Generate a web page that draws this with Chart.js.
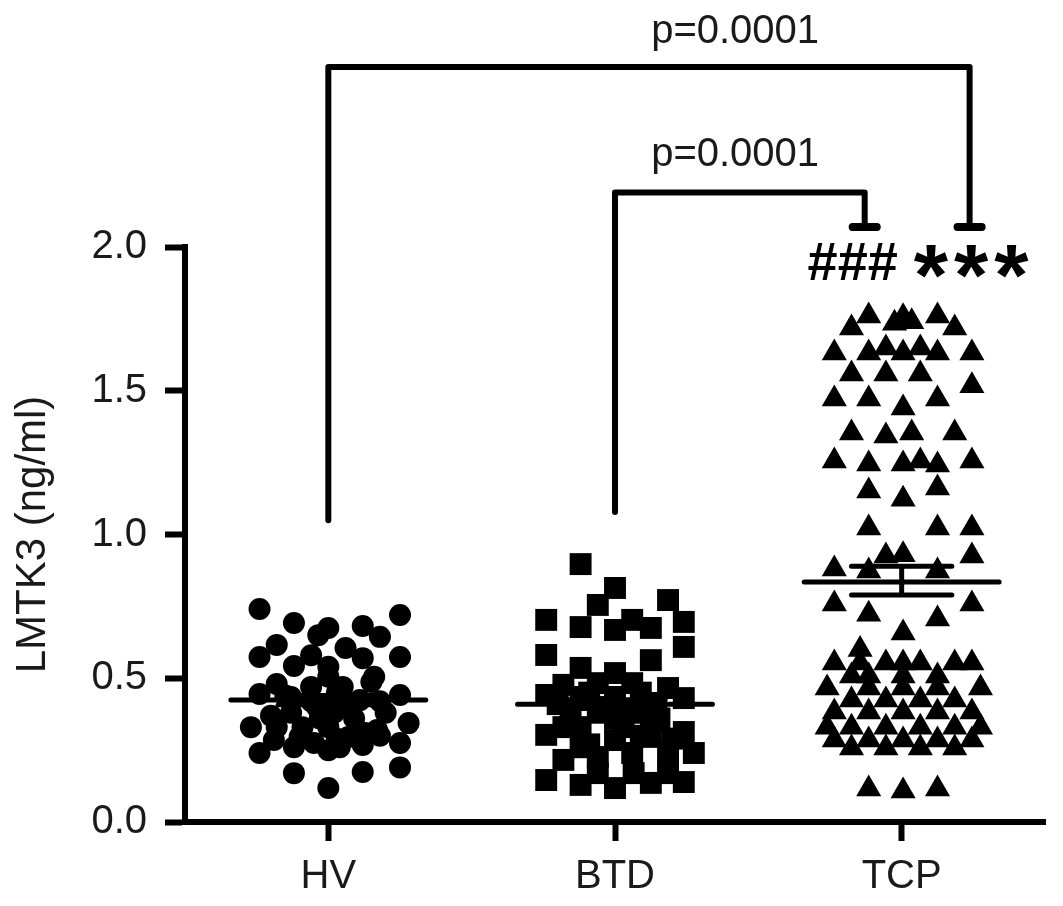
<!DOCTYPE html>
<html>
<head>
<meta charset="utf-8">
<title>LMTK3</title>
<script src="https://cdn.jsdelivr.net/npm/chart.js@4/dist/chart.umd.min.js"></script>
<style>
html, body { margin:0; padding:0; background:#fff; }
</style>
</head>
<body>
<canvas id="chart" width="1063" height="906"></canvas>
<script>
//data

const groups = ['HV', 'BTD', 'TCP'];
const groupPos = [1, 2, 3];
const yTicks = [0, 0.5, 1.0, 1.5, 2.0];

// HV - circles (value, horizontal spread from the group centre)
const hvValues = [0.741,0.692,0.675,0.65,0.682,0.644,0.72,0.616,0.574,0.58,
	0.605,0.57,0.574,0.543,0.54,0.48,0.445,0.487,0.442,0.33,
	0.344,0.24,0.26,0.25,0.268,0.30,0.275,0.17,0.174,0.19,
	0.118,0.33,0.38,0.47,0.505,0.47,0.435,0.424,0.505,0.40,
	0.38,0.33,0.296,0.296,0.285,0.275,0.26,0.32,0.42,0.42,0.42,
	0.45,0.36,0.36,0.33,0.29,0.44,0.38,0.31,0.37];
const hvSpread = [-0.24,-0.12,0,-0.035,0.12,0.18,0.25,-0.18,-0.24,-0.06,
	0.06,0.12,0.25,-0.12,0,-0.18,-0.24,0.15,0.25,-0.27,
	0.28,-0.24,-0.12,0,0.12,0.18,0.25,-0.12,0.12,0.25,
	0,-0.18,-0.13,-0.06,0,0.05,-0.13,0.11,0.16,-0.04,
	0.02,0,-0.10,0.07,-0.19,-0.05,0.04,0.17,-0.06,0.06,0.18,
	0.03,-0.03,0.09,-0.09,0.03,-0.15,0.2,0.13,-0.2];

// BTD - squares
const btdValues = [0.897,0.814,0.755,0.772,0.703,0.678,0.668,0.703,0.675,0.696,
	0.609,0.581,0.563,0.536,0.518,0.477,0.442,0.466,0.431,0.483,
	0.483,0.435,0.435,0.414,0.38,0.38,0.38,0.303,0.313,0.24,
	0.26,0.285,0.296,0.24,0.216,0.226,0.24,0.146,0.129,0.118,
	0.136,0.139,0.17,0.17,0.17,0.33,0.36,0.35,0.33,
	0.45,0.45,0.40,0.33,0.30,0.27,0.36,0.41,0.29];
const btdSpread = [-0.12,0,-0.06,0.185,-0.24,-0.12,0,0.06,0.125,0.24,
	0.24,-0.24,0.125,-0.12,0,-0.18,-0.24,0.185,0.24,-0.06,
	0.06,-0.12,0,0.125,-0.06,0.06,-0.155,-0.24,0.24,0.275,
	-0.12,0,0.125,0.185,-0.18,-0.06,0.06,-0.24,-0.12,0,
	0.125,0.24,-0.06,0.065,0.185,-0.18,0,0.125,-0.12,
	-0.09,0.09,-0.03,0.03,0.09,-0.09,0.155,-0.2,0.2];

// TCP - triangles
const tcpValues = [1.76,1.735,1.757,1.74,1.76,1.718,1.718,
	1.631,1.631,1.649,1.631,1.649,1.631,1.631,
	1.558,1.558,1.558,1.517,
	1.471,1.471,1.44,1.471,
	1.353,1.343,1.353,1.353,
	1.256,1.245,1.245,1.256,1.242,1.256,
	1.151,1.162,1.123,
	1.023,1.023,1.023,
	0.925,0.93,0.925,
	0.88,0.873,0.873,
	0.758,0.723,0.706,0.758,
	0.657,0.60,
	0.553,0.553,0.553,0.553,0.553,0.553,0.553,
	0.508,0.508,0.508,0.508,
	0.466,0.466,0.466,0.466,0.466,
	0.424,0.424,0.424,0.424,
	0.383,0.383,0.383,0.383,0.383,
	0.33,0.33,0.33,0.33,0.33,0.33,
	0.285,0.285,0.285,0.285,0.285,
	0.257,0.257,0.257,0.257,
	0.115,0.108,0.115];
const tcpSpread = [-0.115,-0.025,0.005,0.035,0.125,-0.175,0.185,
	-0.235,-0.115,-0.055,0.005,0.065,0.125,0.245,
	-0.175,-0.055,0.065,0.245,
	-0.235,-0.115,0.005,0.125,
	-0.175,-0.055,0.035,0.185,
	-0.235,-0.115,0.005,0.065,0.125,0.245,
	-0.115,0.125,0.005,
	-0.115,0.125,0.245,
	-0.055,0.005,0.245,
	-0.235,-0.115,0.125,
	-0.235,-0.115,0.125,0.245,
	0.005,-0.145,
	-0.235,-0.145,-0.055,0.005,0.065,0.185,0.245,
	-0.175,-0.115,0.005,0.125,
	-0.26,-0.115,0.005,0.125,0.275,
	-0.175,-0.055,0.065,0.185,
	-0.235,-0.115,0.005,0.125,0.245,
	-0.26,-0.175,-0.055,0.065,0.185,0.275,
	-0.235,-0.115,0.005,0.125,0.245,
	-0.175,-0.055,0.065,0.185,
	-0.115,0.005,0.125];

// mean and SEM per group
const means = [0.424, 0.41, 0.835];
const semUpper = [0.44, 0.425, 0.89];
const semLower = [0.408, 0.395, 0.79];

const pLabels = ['p=0.0001', 'p=0.0001'];
const marks = ['###', '***'];

const fontName = "'Liberation Sans', Arial, sans-serif";


function toPoints(pos, values, spread){
	return values.map(function(v, i){
		return {x: pos + spread[i], y: v};
	});
}


//mean lines, SEM and the significance brackets
const extras = {
	id: 'extras',
	afterDatasetsDraw: function(chart){
		const ctx = chart.ctx;
		const xs = chart.scales.x;
		const ys = chart.scales.y;
		const px = function(v){ return xs.getPixelForValue(v); };
		const py = function(v){ return ys.getPixelForValue(v); };

		ctx.save();
		ctx.strokeStyle = '#000';
		ctx.lineCap = 'round';
		ctx.lineJoin = 'round';

		ctx.lineWidth = 5;
		for(let i = 0; i < groupPos.length; i++){
			const c = groupPos[i];
			ctx.beginPath();
			ctx.moveTo(px(c - 0.34), py(means[i]));
			ctx.lineTo(px(c + 0.34), py(means[i]));
			ctx.moveTo(px(c - 0.175), py(semUpper[i]));
			ctx.lineTo(px(c + 0.175), py(semUpper[i]));
			ctx.moveTo(px(c - 0.175), py(semLower[i]));
			ctx.lineTo(px(c + 0.175), py(semLower[i]));
			ctx.moveTo(px(c), py(semUpper[i]));
			ctx.lineTo(px(c), py(semLower[i]));
			ctx.stroke();
		}

		// brackets: HV vs TCP and BTD vs TCP
		const brackets = [
			{from: groupPos[0], to: 3.237, top: 2.626, foot: 1.05},
			{from: groupPos[1], to: 2.871, top: 2.19, foot: 1.078}
		];
		ctx.lineWidth = 6;
		brackets.forEach(function(b){
			ctx.beginPath();
			ctx.moveTo(px(b.from), py(b.foot));
			ctx.lineTo(px(b.from), py(b.top));
			ctx.lineTo(px(b.to), py(b.top));
			ctx.lineTo(px(b.to), py(2.07));
			ctx.stroke();
			ctx.lineWidth = 8;
			ctx.beginPath();
			ctx.moveTo(px(b.to - 0.042), py(2.07));
			ctx.lineTo(px(b.to + 0.042), py(2.07));
			ctx.stroke();
			ctx.lineWidth = 6;
		});

		ctx.fillStyle = '#1a1a1a';
		ctx.textAlign = 'center';
		ctx.textBaseline = 'alphabetic';
		ctx.font = '40px ' + fontName;
		ctx.fillText(pLabels[0], px(2.419), py(2.71));
		ctx.fillText(pLabels[1], px(2.419), py(2.282));

		// ### and *** centred on the same line
		ctx.fillStyle = '#000';
		ctx.textAlign = 'left';
		const drawCentred = function(text, font, x, y, spacing){
			ctx.font = font;
			ctx.letterSpacing = spacing;
			const m = ctx.measureText(text);
			const w = m.actualBoundingBoxLeft + m.actualBoundingBoxRight;
			const base = y + (m.actualBoundingBoxAscent - m.actualBoundingBoxDescent) / 2;
			ctx.fillText(text, x - w / 2 + m.actualBoundingBoxLeft, base);
		};
		drawCentred(marks[0], 'bold 54px ' + fontName, px(2.829), py(1.948), '0px');
		drawCentred(marks[1], 'bold 88px ' + fontName, px(3.244), py(1.948), '6px');
		ctx.letterSpacing = '0px';

		ctx.restore();
	}
};


const ctx1 = document.getElementById('chart');

const dotPlot = new Chart(ctx1, {
	type: 'scatter',
	data: {
		datasets: [{
			label: groups[0],
			data: toPoints(groupPos[0], hvValues, hvSpread),
			pointStyle: 'circle',
			pointRadius: 11,
			backgroundColor: '#000',
			borderWidth: 0
		}, {
			label: groups[1],
			data: toPoints(groupPos[1], btdValues, btdSpread),
			pointStyle: 'rect',
			pointRadius: 15.5,
			backgroundColor: '#000',
			borderWidth: 0
		}, {
			label: groups[2],
			data: toPoints(groupPos[2], tcpValues, tcpSpread),
			pointStyle: 'triangle',
			pointRadius: 14.5,
			backgroundColor: '#000',
			borderWidth: 0
		}]
	},
	options: {
		responsive: false,
		animation: false,
		devicePixelRatio: 1,
		layout: {
			padding: {top: 247, right: 18, left: 0, bottom: 0}
		},
		plugins: {
			legend: {display: false},
			tooltip: {enabled: false}
		},
		scales: {
			x: {
				type: 'linear',
				min: 0.5,
				max: 3.5,
				afterBuildTicks: function(s){
					s.ticks = groupPos.map(function(v){ return {value: v}; });
				},
				afterFit: function(s){ s.height = 84; },
				border: {display: true, color: '#000', width: 6},
				grid: {drawOnChartArea: false, drawTicks: true, tickLength: 19, tickWidth: 6, tickColor: '#000'},
				ticks: {
					padding: 12,
					color: '#1a1a1a',
					font: {family: fontName, size: 40},
					callback: function(v){
						const i = groupPos.indexOf(v);
						return i >= 0 ? groups[i] : '';
					}
				}
			},
			y: {
				type: 'linear',
				min: 0,
				max: 2,
				afterBuildTicks: function(s){
					s.ticks = yTicks.map(function(v){ return {value: v}; });
				},
				afterFit: function(s){ s.width = 185; },
				border: {display: true, color: '#000', width: 6},
				grid: {drawOnChartArea: false, drawTicks: true, tickLength: 20, tickWidth: 6, tickColor: '#000'},
				ticks: {
					padding: 18,
					color: '#1a1a1a',
					font: {family: fontName, size: 40},
					callback: function(v){ return Number(v).toFixed(1); }
				},
				title: {
					display: true,
					text: 'LMTK3 (ng/ml)',
					color: '#1a1a1a',
					font: {family: fontName, size: 42},
					padding: {top: 8, bottom: 0}
				}
			}
		}
	},
	plugins: [extras]
});
</script>
</body>
</html>
